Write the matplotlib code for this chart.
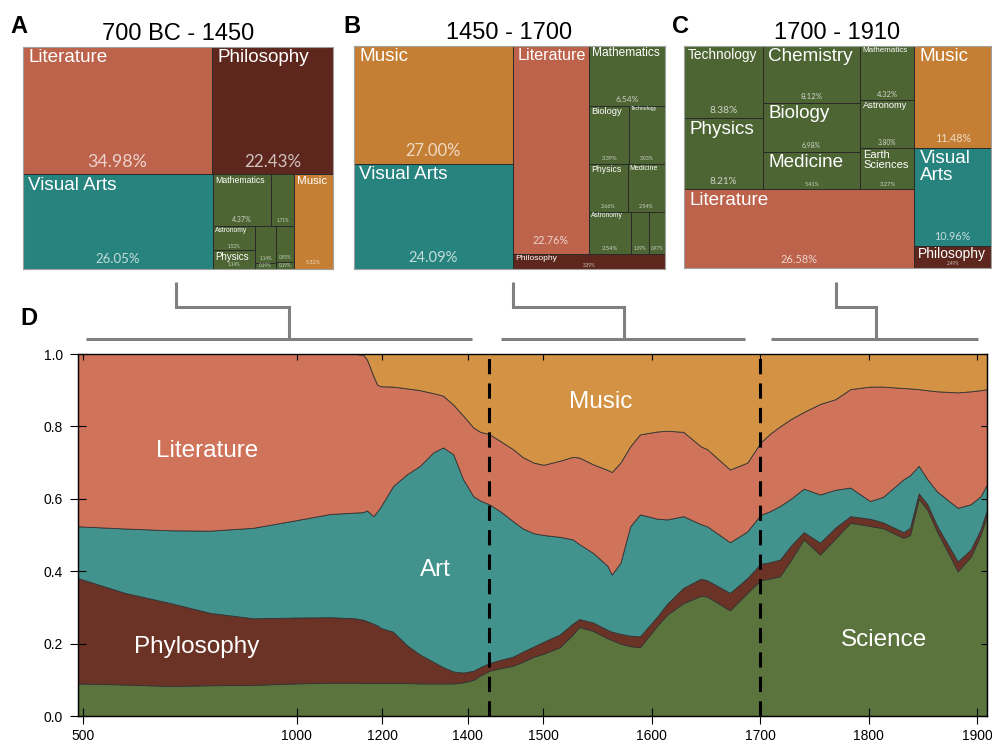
import numpy as np
import matplotlib
matplotlib.use("Agg")
import matplotlib.pyplot as plt
from matplotlib.patches import Rectangle
from matplotlib.textpath import TextPath
from matplotlib.font_manager import FontProperties
from matplotlib.lines import Line2D

plt.rcParams["font.family"] = ["Liberation Sans", "DejaVu Sans"]

# ---------------------------------------------------------------------------
# Panel D data: cumulative share boundaries (bottom to top)
# ---------------------------------------------------------------------------
years = [488, 598, 704, 797, 898, 994, 1078, 1136, 1155, 1164, 1179, 1188, 1197,
         1225, 1258, 1288, 1319, 1342, 1366, 1389, 1413, 1429, 1450, 1460, 1472,
         1481, 1491, 1500, 1515, 1527, 1533, 1546, 1559, 1563, 1571, 1580, 1589,
         1605, 1614, 1629, 1645, 1651, 1672, 1688, 1700, 1709, 1718, 1728, 1740,
         1755, 1769, 1783, 1801, 1813, 1832, 1838, 1846, 1854, 1863, 1882, 1894,
         1903, 1909]
science_top = [.090, .087, .083, .085, .086, .090, .092, .092, .091, .091, .091, .091, .091,
               .091, .091, .090, .090, .090, .090, .093, .100, .112, .125, .132, .139,
               .150, .164, .172, .190, .225, .246, .235, .215, .210, .200, .193, .190,
               .250, .280, .312, .332, .330, .292, .340, .375, .380, .386, .430, .488,
               .446, .490, .534, .525, .519, .492, .500, .600, .570, .510, .400, .440,
               .500, .555]
philosophy_top = [.381, .340, .312, .285, .270, .272, .273, .270, .266, .262, .255, .250, .243,
                  .233, .195, .170, .150, .135, .123, .120, .125, .135, .146, .155, .164,
                  .178, .192, .205, .225, .255, .268, .258, .238, .233, .227, .222, .220,
                  .275, .310, .354, .379, .375, .340, .381, .420, .425, .432, .470, .508,
                  .479, .520, .552, .545, .535, .508, .520, .615, .585, .525, .427, .460,
                  .515, .570]
art_top = [.524, .518, .513, .512, .520, .540, .558, .562, .563, .568, .552, .565, .580,
           .635, .668, .691, .728, .742, .723, .654, .607, .595, .585, .566, .538,
           .518, .505, .500, .495, .488, .475, .450, .415, .391, .423, .524, .557,
           .545, .543, .552, .530, .524, .480, .510, .555, .566, .580, .600, .628,
           .612, .625, .631, .594, .605, .654, .665, .691, .654, .620, .575, .585,
           .607, .640]
literature_top = [1.0, 1.0, 1.0, 1.0, 1.0, 1.0, 1.0, 1.0, .998, .985, .940, .915, .911,
                  .910, .905, .900, .892, .885, .860, .830, .797, .785, .779, .760, .737,
                  .715, .700, .694, .705, .716, .714, .695, .680, .674, .700, .745, .778,
                  .786, .788, .785, .745, .737, .681, .700, .755, .780, .800, .820, .840,
                  .862, .875, .903, .910, .910, .906, .905, .903, .900, .897, .894, .897,
                  .900, .903]

period_breaks = [1450, 1700]
x_ticks = [500, 1000, 1200, 1400, 1500, 1600, 1700, 1800, 1900]
y_ticks = [0.0, 0.2, 0.4, 0.6, 0.8, 1.0]

# ---------------------------------------------------------------------------
# Treemap data (percent of output per field and period)
# ---------------------------------------------------------------------------
a_names = ["Literature", "Philosophy", "Visual Arts", "Mathematics", "", "Astronomy",
           "Physics", "", "", "", "", "Music"]
a_values = [34.98, 22.43, 26.05, 4.37, 1.71, 1.52, 1.14, 1.14, 0.19, 0.95, 0.19, 5.32]
a_fields = ["lit", "phil", "art", "sci", "sci", "sci", "sci", "sci", "sci", "sci", "sci", "music"]

b_names = ["Music", "Visual Arts", "Literature", "Mathematics", "Biology", "Technology",
           "Physics", "Medicine", "Astronomy", "", "", "Philosophy"]
b_values = [27.00, 24.09, 22.76, 6.54, 3.39, 3.03, 2.66, 2.54, 2.54, 1.09, 0.97, 3.39]
b_fields = ["music", "art", "lit", "sci", "sci", "sci", "sci", "sci", "sci", "sci", "sci", "phil"]

c_names = ["Technology", "Physics", "Chemistry", "Biology", "Medicine", "Mathematics",
           "Astronomy", "Earth\nSciences", "Literature", "Music", "Visual\nArts", "Philosophy"]
c_values = [8.38, 8.21, 8.12, 6.98, 5.41, 4.32, 3.80, 3.27, 26.58, 11.48, 10.96, 2.49]
c_fields = ["sci", "sci", "sci", "sci", "sci", "sci", "sci", "sci", "lit", "music", "art", "phil"]

# Nesting of the treemap cells: "h" = side by side, "v" = stacked.
a_tree = ("v", [("h", [0, 1]),
                ("h", [2, ("v", [("h", [3, 4]),
                                 ("h", [("v", [5, 6]), ("v", [7, 8]), ("v", [9, 10])])]), 11])])
b_tree = ("h", [("v", [0, 1]),
                ("v", [("h", [2, ("v", [3, ("h", [4, 5]), ("h", [6, 7]), ("h", [8, 9, 10])])]), 11])])
c_tree = ("h", [("v", [("h", [("v", [0, 1]), ("v", [2, 3, 4]), ("v", [5, 6, 7])]), 8]),
                ("v", [9, 10, 11])])

tree_colors = {"lit": "#bd624b", "phil": "#5d271d", "art": "#27837e",
               "music": "#c57f34", "sci": "#4c6533"}
area_colors = ["#5b743e", "#6b3325", "#42928d", "#cf735a", "#d49244"]

DPI = 100
W, H = 992, 747
PT = DPI / 72.0


def px_rect(x0, y0, x1, y1):
    # Pixel box (top-left origin) to figure fraction.
    return [x0 / W, 1 - y1 / H, (x1 - x0) / W, (y1 - y0) / H]


def node_value(node, values):
    if isinstance(node, int):
        return values[node]
    return sum(node_value(k, values) for k in node[1])


def split(node, x, y, w, h, values, out):
    if isinstance(node, int):
        out.append((node, x, y, w, h))
        return
    orient, kids = node
    total = sum(node_value(k, values) for k in kids)
    pos = 0.0
    for k in kids:
        frac = node_value(k, values) / total
        if orient == "h":
            split(k, x + pos * w, y, frac * w, h, values, out)
        else:
            split(k, x, y + pos * h, w, frac * h, values, out)
        pos += frac


name_prop = FontProperties(family="Liberation Sans")


def text_width(s):
    return max(TextPath((0, 0), line, size=1, prop=name_prop).get_extents().width
               for line in s.split("\n"))


def draw_treemap(ax, names, values, fields, tree, title):
    bb = ax.get_position()
    aw, ah = bb.width * W, bb.height * H
    ax.set_xlim(0, aw)
    ax.set_ylim(ah, 0)
    ax.set_xticks([])
    ax.set_yticks([])
    for s in ax.spines.values():
        s.set_color("#a0a0a0")
        s.set_linewidth(0.8)
    ax.set_title(title, fontsize=17, pad=5)

    cells = []
    split(tree, 0, 0, aw, ah, values, cells)
    for i, x, y, w, h in cells:
        ax.add_patch(Rectangle((x, y), w, h, facecolor=tree_colors[fields[i]],
                               edgecolor="#2a2a2a", linewidth=0.7))
        name = names[i]
        if name:
            nlines = name.count("\n") + 1
            em = min(13.6 * PT, (w - 10) / text_width(name), (h - 7) / nlines)
            em = max(em, 3.0)
            ax.text(x + 0.28 * em, y + 0.12 * em, name, color="white",
                    fontsize=em / PT, va="top", ha="left", linespacing=1.0)
        pem = max(0.14 * min(w, h), 4.5)
        ax.text(x + w / 2, y + h - (0.03 * h + 1), f"{values[i]:.2f}%",
                color="white", alpha=0.72, fontsize=pem / PT, ha="center",
                va="bottom", family=["Lato", "DejaVu Sans"])


fig = plt.figure(figsize=(W / DPI, H / DPI), dpi=DPI)

# --- Treemaps A, B, C ------------------------------------------------------
ax_a = fig.add_axes(px_rect(23, 47, 333, 269))
ax_b = fig.add_axes(px_rect(354, 46, 665, 269))
ax_c = fig.add_axes(px_rect(684, 46, 991, 268))
draw_treemap(ax_a, a_names, a_values, a_fields, a_tree, "700 BC - 1450")
draw_treemap(ax_b, b_names, b_values, b_fields, b_tree, "1450 - 1700")
draw_treemap(ax_c, c_names, c_values, c_fields, c_tree, "1700 - 1910")

for letter, (lx, ly) in {"A": (10, 33), "B": (343, 33), "C": (672, 33), "D": (20, 325)}.items():
    fig.text(lx / W, 1 - ly / H, letter, fontsize=17, fontweight="bold", va="baseline")

# --- Brackets linking treemaps to the periods ------------------------------
brackets = [
    [(176, 282), (176, 307), (289, 307), (289, 339)],
    [(513, 282), (513, 307), (624, 307), (624, 339)],
    [(836, 282), (836, 307), (876, 307), (876, 339)],
    [(86, 339), (472, 339)],
    [(501, 339), (745, 339)],
    [(771, 339), (978, 339)],
]
for pts in brackets:
    xs = [p[0] / W for p in pts]
    ys = [1 - p[1] / H for p in pts]
    fig.add_artist(Line2D(xs, ys, color="#808080", linewidth=2.2,
                          solid_joinstyle="miter", solid_capstyle="butt"))

# --- Panel D: stacked shares over time ------------------------------------
scale_years = [-5000, 500, 1450, 1900, 5000]
scale_pos = [-2267.7, 83, 489, 977, 4338.6]


def fwd(x):
    return np.interp(x, scale_years, scale_pos)


def inv(x):
    return np.interp(x, scale_pos, scale_years)


sci = np.array(science_top)
phil = np.array(philosophy_top)
art = np.array(art_top)
lit = np.array(literature_top)
shares = [sci, phil - sci, art - phil, lit - art, 1 - lit]

ax = fig.add_axes(px_rect(78, 354, 987, 716))
ax.set_xscale("function", functions=(fwd, inv))
ax.stackplot(years, *shares, colors=area_colors, edgecolor="#333333", linewidth=0.6)
ax.set_xlim(488, 1909)
ax.set_ylim(0, 1)

for b in period_breaks:
    ax.axvline(b, color="black", linewidth=2.2, dashes=(5, 3))

ax.set_xticks(x_ticks)
ax.set_xticklabels([str(t) for t in x_ticks])
ax.set_yticks(y_ticks)
ax.set_yticklabels([f"{t:.1f}" for t in y_ticks])
ax.tick_params(axis="x", direction="inout", length=12, width=0.8, labelsize=10, pad=3)
ax.tick_params(axis="y", direction="inout", length=12, width=0.8, labelsize=10, pad=5)
for s in ax.spines.values():
    s.set_linewidth(0.9)
ax.spines["top"].set_color("#444444")

# inward ticks on the top and right frame
ax_top = ax.twiny()
ax_top.set_xscale("function", functions=(fwd, inv))
ax_top.set_xlim(ax.get_xlim())
ax_top.set_xticks(x_ticks)
ax_top.tick_params(axis="x", direction="in", length=4, width=0.8, labeltop=False)
ax_right = ax.twinx()
ax_right.set_ylim(0, 1)
ax_right.set_yticks(y_ticks)
ax_right.tick_params(axis="y", direction="in", length=4, width=0.8, labelright=False)

labels = [("Literature", 789, 0.731), ("Phylosophy", 765, 0.191), ("Art", 1324, 0.402),
          ("Music", 1553, 0.867), ("Science", 1814, 0.21)]
for txt, lx, ly in labels:
    ax.text(lx, ly, txt, color="white", fontsize=17.5, ha="center", va="center")

fig.savefig("out.png", dpi=DPI)
